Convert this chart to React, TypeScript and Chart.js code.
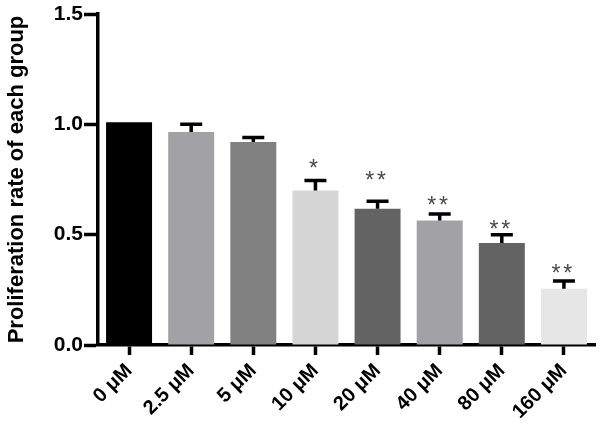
import React, { useEffect, useRef } from "react";
import { Chart, registerables } from "chart.js";

Chart.register(...registerables);

const categories = ["0 μM", "2.5 μM", "5 μM", "10 μM", "20 μM", "40 μM", "80 μM", "160 μM"];
const values = [1.01, 0.965, 0.92, 0.70, 0.617, 0.564, 0.462, 0.255];
const errors = [0, 0.035, 0.02, 0.045, 0.034, 0.03, 0.038, 0.035];
const sigCounts = [0, 0, 0, 1, 2, 2, 2, 2];
const sigLevels = [0, 0, 0, 0.823, 0.767, 0.656, 0.545, 0.345];
const barColors = ["#000000", "#a2a2a6", "#818181", "#d6d6d6", "#636363", "#a2a2a6", "#636363", "#e6e6e6"];
const yTicks = [0, 0.5, 1.0, 1.5];

const FONT = "'Liberation Sans', Arial, sans-serif";

const errorBarPlugin = {
  id: "errorBars",
  afterDatasetsDraw(chart: any) {
    const ctx = chart.ctx;
    const meta = chart.getDatasetMeta(0);
    const y = chart.scales.y;
    ctx.save();
    ctx.strokeStyle = "#000";
    ctx.lineWidth = 3.5;
    ctx.lineCap = "butt";
    meta.data.forEach((bar: any, i: number) => {
      if (errors[i] > 0) {
        const x = bar.x;
        const yb = y.getPixelForValue(values[i]);
        const yt = y.getPixelForValue(values[i] + errors[i]);
        ctx.beginPath();
        ctx.moveTo(x, yb);
        ctx.lineTo(x, yt);
        ctx.moveTo(x - 11, yt);
        ctx.lineTo(x + 11, yt);
        ctx.stroke();
      }
      const n = sigCounts[i];
      if (n > 0) {
        ctx.font = `23px ${FONT}`;
        ctx.fillStyle = "#4a4a4a";
        ctx.textAlign = "center";
        ctx.textBaseline = "alphabetic";
        const m = ctx.measureText("*");
        const asc = m.actualBoundingBoxAscent;
        const desc = m.actualBoundingBoxDescent;
        const cy = y.getPixelForValue(sigLevels[i]);
        const gap = 11.7;
        for (let k = 0; k < n; k++) {
          const cx = bar.x - 2 + (k - (n - 1) / 2) * gap;
          ctx.fillText("*", cx, cy + (asc - desc) / 2);
        }
      }
    });
    ctx.restore();
  },
};

export default function App() {
  const ref = useRef<HTMLCanvasElement>(null);
  useEffect(() => {
    if (!ref.current) return;
    const chart = new Chart(ref.current, {
      type: "bar",
      data: {
        labels: categories,
        datasets: [
          {
            data: values,
            backgroundColor: barColors,
            borderWidth: 0,
            barPercentage: 0.74,
            categoryPercentage: 1,
          },
        ],
      },
      options: {
        animation: false,
        responsive: true,
        maintainAspectRatio: false,
        layout: { padding: { top: 14, right: 5, left: 0, bottom: 0 } },
        plugins: { legend: { display: false }, tooltip: { enabled: false } },
        scales: {
          x: {
            z: 1,
            border: { display: true, color: "#000", width: 3.5 },
            grid: {
              offset: false,
              drawOnChartArea: false,
              drawTicks: true,
              tickLength: 10,
              tickWidth: 3.5,
              tickColor: "#000",
            },
            ticks: {
              color: "#000",
              font: { family: FONT, size: 20, weight: "bold" },
              minRotation: 45,
              maxRotation: 45,
              padding: 4,
            },
            afterFit: (s: any) => {
              s.height = 81;
            },
          },
          y: {
            z: 1,
            min: 0,
            max: 1.5,
            border: { display: true, color: "#000", width: 3.5 },
            grid: {
              drawOnChartArea: false,
              drawTicks: true,
              tickLength: 14,
              tickWidth: 3.5,
              tickColor: "#000",
            },
            afterBuildTicks: (s: any) => {
              s.ticks = yTicks.map((v) => ({ value: v }));
            },
            ticks: {
              color: "#000",
              font: { family: FONT, size: 21, weight: "bold" },
              padding: 1,
              callback: (v: any) => Number(v).toFixed(1),
            },
            title: {
              display: true,
              text: "Proliferation rate of each group",
              color: "#000",
              font: { family: FONT, size: 22, weight: "bold" },
              padding: { top: 4, bottom: 0 },
            },
            afterFit: (s: any) => {
              s.width = 98;
            },
          },
        },
      },
      plugins: [errorBarPlugin],
    });
    return () => chart.destroy();
  }, []);
  return (
    <div style={{ position: "absolute", left: 0, top: 0, width: 600, height: 426 }}>
      <canvas ref={ref} />
    </div>
  );
}
